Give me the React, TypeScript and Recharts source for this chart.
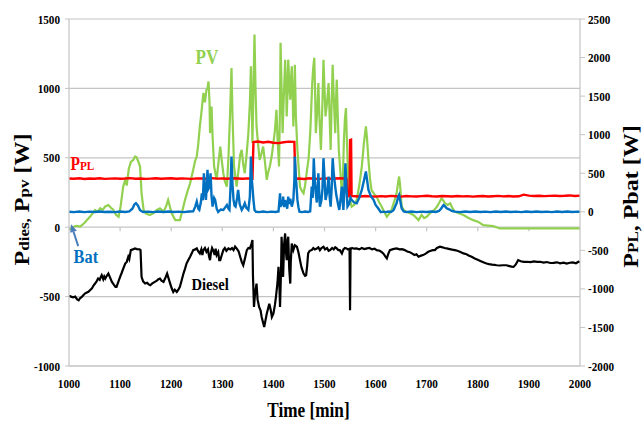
import {
  CartesianGrid,
  Line,
  LineChart,
  ReferenceDot,
  ReferenceLine,
  XAxis,
  YAxis
} from "recharts";

const FONT = '"Liberation Serif", "Times New Roman", Times, serif';
const SQ = 0.86;
const GRID = "#c4c4c4";

const X_TICKS = [1000, 1100, 1200, 1300, 1400, 1500, 1600, 1700, 1800, 1900, 2000];
const LEFT_TICKS = [-1000, -500, 0, 500, 1000, 1500];
const RIGHT_TICKS = [-2000, -1500, -1000, -500, 0, 500, 1000, 1500, 2000, 2500];

// [time min, W]  -- left axis
const PV = [
  [1000, -15], [1005, -10], [1010, 5], [1015, 10], [1022, 5], [1030, 30], [1041, 75], [1051, 124],
  [1056, 110], [1061, 136], [1066, 125], [1071, 150], [1077, 160], [1082, 140], [1087, 124], [1092, 90],
  [1097, 75], [1101, 150], [1106, 292], [1110, 340], [1113, 300], [1117, 420], [1121, 470], [1126, 485],
  [1129, 509], [1132, 505], [1136, 470], [1139, 437], [1142, 244], [1146, 124], [1150, 100], [1158, 88],
  [1165, 100], [1172, 124], [1178, 136], [1185, 112], [1190, 150], [1194, 196], [1198, 140], [1201, 100],
  [1208, 51], [1217, 51], [1222, 120], [1227, 196], [1232, 260], [1237, 316], [1243, 413], [1247, 480],
  [1250, 509], [1253, 600], [1256, 726], [1259, 820], [1263, 967], [1266, 900], [1269, 991], [1271, 1000],
  [1273, 1050], [1275, 900], [1276, 678], [1278, 750], [1279, 870], [1281, 650], [1284, 437], [1287, 380],
  [1289, 341], [1292, 450], [1296, 581], [1299, 480], [1302, 389], [1305, 330], [1309, 292], [1312, 500],
  [1315, 798], [1318, 1147], [1320, 800], [1323, 437], [1326, 350], [1328, 292], [1332, 420], [1335, 520],
  [1338, 557], [1341, 450], [1344, 389], [1347, 500], [1351, 678], [1354, 900], [1356, 1159], [1358, 800],
  [1359, 606], [1361, 1000], [1363, 1388], [1365, 1000], [1367, 726], [1370, 600], [1373, 485], [1376, 520],
  [1380, 581], [1384, 450], [1387, 341], [1390, 400], [1393, 437], [1397, 520], [1400, 606], [1403, 700],
  [1406, 846], [1408, 650], [1411, 437], [1413, 900], [1414, 1328], [1416, 1000], [1418, 678], [1420, 900],
  [1423, 1207], [1425, 1000], [1426, 798], [1428, 1000], [1429, 1207], [1431, 1050], [1433, 919], [1435, 1100],
  [1436, 1159], [1438, 900], [1439, 726], [1441, 950], [1442, 1171], [1444, 800], [1447, 557], [1450, 400],
  [1452, 292], [1456, 260], [1459, 244], [1462, 300], [1465, 389], [1469, 500], [1472, 678], [1474, 850],
  [1476, 1039], [1478, 1150], [1480, 1220], [1482, 900], [1483, 678], [1486, 850], [1488, 1039], [1490, 800],
  [1493, 557], [1496, 900], [1498, 1207], [1500, 1000], [1502, 798], [1505, 900], [1508, 1039], [1510, 800],
  [1512, 557], [1514, 900], [1516, 1171], [1518, 950], [1521, 678], [1522, 850], [1524, 1063], [1526, 800],
  [1528, 557], [1531, 400], [1534, 244], [1536, 350], [1538, 630], [1540, 780], [1542, 858], [1544, 600],
  [1547, 300], [1550, 200], [1553, 148], [1558, 160], [1563, 196], [1568, 300], [1573, 437], [1577, 600],
  [1581, 726], [1583, 650], [1586, 485], [1589, 350], [1592, 268], [1597, 240], [1602, 220], [1607, 180],
  [1612, 148], [1617, 110], [1622, 76], [1627, 100], [1631, 124], [1636, 180], [1641, 244], [1644, 320],
  [1646, 365], [1648, 300], [1651, 148], [1656, 120], [1661, 112], [1667, 100], [1674, 88], [1679, 70],
  [1684, 51], [1690, 88], [1695, 65], [1700, 75], [1705, 95], [1710, 112], [1715, 125], [1720, 148],
  [1725, 180], [1729, 208], [1733, 190], [1736, 172], [1741, 160], [1746, 172], [1750, 140], [1755, 112],
  [1763, 100], [1772, 88], [1780, 70], [1791, 51], [1800, 40], [1811, 15], [1820, 12], [1830, 8],
  [1838, -2], [1843, -8], [1880, -8], [1920, -8], [1960, -8], [2000, -8]
];

const DIESEL = [
  [1000, -495], [1004, -500], [1008, -505], [1012, -500], [1016, -520], [1019, -527], [1022, -510], [1025, -502],
  [1028, -490], [1031, -478], [1035, -470], [1038, -465], [1041, -454], [1045, -440], [1048, -420], [1051, -406],
  [1054, -390], [1057, -370], [1060, -380], [1062, -360], [1064, -346], [1067, -375], [1069, -355], [1071, -370],
  [1074, -350], [1077, -334], [1080, -360], [1084, -394], [1088, -415], [1091, -430], [1093, -430], [1096, -400],
  [1100, -358], [1103, -330], [1106, -300], [1110, -262], [1113, -250], [1116, -213], [1118, -230], [1121, -165],
  [1125, -160], [1129, -153], [1133, -158], [1138, -160], [1140, -165], [1142, -358], [1145, -390], [1149, -406],
  [1153, -400], [1156, -412], [1159, -418], [1163, -405], [1168, -394], [1172, -385], [1175, -375], [1178, -370],
  [1181, -385], [1185, -394], [1188, -370], [1192, -334], [1195, -370], [1198, -406], [1201, -440], [1204, -466],
  [1207, -450], [1211, -466], [1214, -450], [1217, -430], [1220, -390], [1224, -334], [1227, -300], [1230, -262],
  [1233, -240], [1237, -213], [1240, -190], [1243, -165], [1247, -160], [1250, -153], [1253, -175], [1256, -189],
  [1259, -160], [1261, -200], [1263, -165], [1266, -150], [1269, -177], [1272, -160], [1274, -210], [1276, -237],
  [1278, -180], [1280, -150], [1282, -165], [1285, -200], [1287, -155], [1289, -201], [1292, -180], [1294, -237],
  [1296, -237], [1299, -200], [1302, -165], [1305, -150], [1308, -170], [1312, -153], [1316, -160], [1319, -150],
  [1322, -165], [1325, -140], [1328, -153], [1332, -175], [1335, -213], [1338, -250], [1341, -274], [1344, -230],
  [1348, -165], [1351, -150], [1354, -153], [1357, -120], [1359, -93], [1360, -350], [1362, -575], [1364, -480],
  [1367, -406], [1369, -520], [1372, -575], [1375, -600], [1377, -647], [1380, -690], [1382, -719], [1384, -680],
  [1387, -623], [1390, -580], [1392, -551], [1395, -600], [1397, -647], [1400, -623], [1403, -560], [1405, -502],
  [1408, -400], [1410, -286], [1412, -450], [1413, -575], [1415, -300], [1416, -69], [1418, -250], [1419, -358],
  [1421, -120], [1423, -45], [1424, -150], [1426, -237], [1428, -90], [1429, -69], [1431, -300], [1433, -406],
  [1434, -250], [1436, -117], [1439, -165], [1442, -130], [1446, -141], [1449, -180], [1452, -237], [1455, -290],
  [1459, -334], [1462, -350], [1464, -346], [1466, -280], [1468, -189], [1471, -170], [1475, -165], [1478, -150],
  [1481, -160], [1485, -153], [1488, -145], [1491, -165], [1494, -150], [1498, -141], [1501, -160], [1505, -150],
  [1508, -170], [1511, -165], [1515, -150], [1518, -160], [1521, -145], [1524, -153], [1527, -165], [1530, -165],
  [1534, -189], [1537, -160], [1540, -150], [1543, -153], [1546, -160], [1549, -155], [1550, -599], [1551, -160],
  [1554, -150], [1558, -155], [1563, -153], [1568, -160], [1573, -150], [1578, -158], [1583, -153], [1588, -150],
  [1593, -160], [1598, -155], [1602, -165], [1608, -170], [1612, -180], [1615, -189], [1619, -210], [1622, -225],
  [1625, -190], [1628, -165], [1634, -158], [1641, -153], [1647, -160], [1652, -158], [1657, -165], [1662, -175],
  [1667, -180], [1671, -189], [1676, -200], [1680, -195], [1684, -213], [1689, -205], [1693, -201], [1698, -190],
  [1703, -177], [1708, -170], [1712, -165], [1716, -165], [1720, -150], [1726, -141], [1731, -145], [1735, -150],
  [1739, -153], [1745, -158], [1750, -162], [1755, -165], [1760, -170], [1766, -178], [1772, -189], [1778, -195],
  [1783, -205], [1788, -213], [1794, -225], [1801, -237], [1806, -245], [1812, -255], [1817, -262], [1822, -266],
  [1828, -270], [1833, -272], [1837, -274], [1843, -276], [1849, -274], [1856, -274], [1862, -280], [1866, -284],
  [1870, -286], [1874, -270], [1879, -237], [1884, -245], [1890, -250], [1896, -249], [1903, -252], [1910, -246],
  [1916, -250], [1922, -249], [1929, -255], [1935, -251], [1942, -258], [1948, -257], [1955, -253], [1961, -260],
  [1968, -255], [1974, -262], [1980, -256], [1986, -254], [1992, -260], [1997, -249], [2000, -252]
];

// [time min, W]  -- right axis
const PPL = [
  [1000, 432], [1010, 428], [1020, 435], [1030, 426], [1040, 431], [1050, 429], [1060, 434], [1070, 427],
  [1080, 430], [1090, 433], [1100, 428], [1110, 431], [1120, 436], [1130, 429], [1140, 432], [1150, 427],
  [1160, 430], [1170, 434], [1180, 428], [1190, 431], [1200, 435], [1210, 429], [1220, 432], [1230, 430],
  [1240, 427], [1250, 433], [1260, 431], [1270, 428], [1280, 436], [1290, 430], [1300, 432], [1310, 429],
  [1320, 434], [1330, 431], [1340, 428], [1350, 433], [1359, 430], [1361, 905], [1370, 912], [1380, 898],
  [1390, 908], [1400, 895], [1410, 890], [1420, 902], [1430, 910], [1441, 906], [1443, 428], [1450, 432],
  [1460, 426], [1470, 434], [1480, 430], [1490, 427], [1500, 433], [1510, 429], [1520, 431], [1530, 435],
  [1543, 430], [1545, 205], [1549, 200], [1550, 930], [1552, 935], [1553, 205], [1560, 202], [1570, 198],
  [1580, 205], [1590, 200], [1600, 196], [1610, 203], [1620, 199], [1630, 206], [1640, 201], [1650, 197],
  [1660, 204], [1670, 200], [1680, 198], [1690, 203], [1700, 207], [1710, 201], [1720, 199], [1730, 205],
  [1740, 202], [1750, 198], [1760, 204], [1770, 200], [1780, 203], [1790, 197], [1800, 201], [1810, 205],
  [1820, 199], [1830, 202], [1840, 206], [1850, 200], [1860, 204], [1870, 198], [1880, 201], [1890, 222],
  [1900, 210], [1910, 205], [1920, 208], [1930, 203], [1940, 206], [1950, 210], [1960, 204], [1970, 207],
  [1980, 212], [1990, 205], [2000, 209]
];

const BAT = [
  [1000, 0], [1010, -5], [1020, 3], [1030, -4], [1040, 2], [1050, -3], [1060, 4], [1070, -2],
  [1080, 1], [1090, -4], [1100, 3], [1110, -2], [1118, 5], [1124, 40], [1128, 95], [1131, 112],
  [1135, 80], [1139, 20], [1145, -3], [1155, 2], [1165, -4], [1175, 3], [1185, -2], [1195, 4],
  [1205, -3], [1215, 2], [1225, -4], [1235, 3], [1243, 5], [1247, 67], [1250, 132], [1253, 40],
  [1255, 24], [1258, 120], [1260, 240], [1262, 150], [1264, 500], [1266, 260], [1268, 154], [1270, 400],
  [1271, 544], [1273, 300], [1275, 327], [1277, 500], [1279, 200], [1281, 67], [1284, 180], [1286, 154],
  [1289, 40], [1292, -2], [1297, 30], [1302, 24], [1306, 60], [1309, 88], [1312, 40], [1314, 24],
  [1316, 300], [1318, 717], [1320, 350], [1322, 154], [1324, 80], [1326, 67], [1329, 180], [1331, 284],
  [1334, 100], [1338, 24], [1341, 60], [1344, 110], [1347, 50], [1351, 24], [1354, 200], [1356, 717],
  [1358, 400], [1359, 327], [1361, 150], [1363, 24], [1366, 0], [1372, -5], [1380, 3], [1388, -4],
  [1396, 2], [1404, -3], [1410, 5], [1413, 240], [1414, 60], [1416, 154], [1418, 80], [1419, 197],
  [1421, 60], [1423, 150], [1425, 110], [1427, 40], [1429, 197], [1431, 100], [1433, 170], [1436, 67],
  [1439, 150], [1441, 400], [1442, 717], [1444, 450], [1447, 154], [1449, 60], [1451, 2], [1456, -4],
  [1462, 3], [1468, -2], [1472, 5], [1475, 327], [1477, 180], [1479, 695], [1481, 400], [1483, 240],
  [1485, 120], [1488, 500], [1490, 200], [1491, 67], [1494, 150], [1496, 300], [1498, 695], [1500, 450],
  [1502, 154], [1505, 250], [1508, 457], [1510, 200], [1512, 67], [1514, 300], [1516, 695], [1518, 500],
  [1521, 327], [1523, 220], [1525, 154], [1527, 80], [1529, 24], [1532, 200], [1534, 327], [1536, 100],
  [1537, 24], [1539, 300], [1541, 630], [1543, 300], [1545, 67], [1548, 100], [1551, 180], [1553, 154],
  [1558, 120], [1563, 110], [1568, 180], [1573, 284], [1577, 400], [1581, 522], [1584, 380], [1586, 284],
  [1591, 200], [1596, 154], [1600, 90], [1605, 45], [1610, -5], [1615, 2], [1620, -4], [1625, 3],
  [1630, -2], [1635, 20], [1639, 80], [1641, 110], [1644, 190], [1646, 219], [1648, 150], [1651, 45],
  [1655, 5], [1660, -4], [1670, 3], [1680, -5], [1690, 2], [1700, -3], [1710, 4], [1718, -2],
  [1724, 10], [1728, 40], [1733, 88], [1736, 70], [1739, 45], [1743, 35], [1746, 24], [1750, 10],
  [1755, 2], [1765, -4], [1775, 3], [1785, -2], [1795, 4], [1805, -3], [1815, 2], [1825, -5],
  [1835, 3], [1845, -2], [1855, 4], [1865, -3], [1875, 2], [1885, -4], [1895, 3], [1905, -2],
  [1915, 4], [1925, -3], [1935, 2], [1945, -5], [1955, 3], [1965, -2], [1975, 4], [1985, -3],
  [1995, 2], [2000, 0]
];

const toRows = (pairs: number[][]) => pairs.map(([t, v]) => ({ t, v }));

function Squeezed({ x, y, anchor = "middle", size, fill = "#000", children }: any) {
  return (
    <text
      transform={`translate(${x},${y}) scale(${SQ},1)`}
      textAnchor={anchor}
      fontFamily={FONT}
      fontWeight={700}
      fontSize={size}
      fill={fill}
    >
      {children}
    </text>
  );
}

const LeftTick = ({ x, y, payload }: any) => (
  <Squeezed x={x} y={y + 4.5} anchor="end" size={13}>{payload.value}</Squeezed>
);
const RightTick = ({ x, y, payload }: any) => (
  <Squeezed x={x} y={y + 4.5} anchor="start" size={13}>{payload.value}</Squeezed>
);
const BottomTick = ({ x, y, payload }: any) => (
  <Squeezed x={x} y={y + 21.5} size={13}>{payload.value}</Squeezed>
);

function RotTitle({ cx, cy, children }: any) {
  return (
    <text
      transform={`translate(${cx},${cy}) scale(${SQ},1) rotate(-90)`}
      y={8}
      textAnchor="middle"
      fontFamily={FONT}
      fontWeight={700}
      fontSize={24}
      fill="#000"
    >
      {children}
    </text>
  );
}

const LeftTitle = ({ viewBox }: any) => (
  <RotTitle cx={viewBox.x + 22} cy={viewBox.y + viewBox.height / 2 + 7}>
    P<tspan fontSize={17}>dies,</tspan> P<tspan fontSize={17}>pv</tspan> [W]
  </RotTitle>
);

const RightTitle = ({ viewBox }: any) => (
  <RotTitle cx={viewBox.x + 51} cy={viewBox.y + viewBox.height / 2 + 4}>
    P<tspan fontSize={17}>PL</tspan>, Pbat [W]
  </RotTitle>
);

const BottomTitle = ({ viewBox }: any) => (
  <Squeezed x={viewBox.x + viewBox.width / 2 - 16} y={viewBox.y + 51} size={20}>
    Time [min]
  </Squeezed>
);

const note = (text: any, size: number, fill: string) => ({ viewBox }: any) => (
  <Squeezed x={viewBox.x} y={viewBox.y + size * 0.33} size={size} fill={fill}>
    {text}
  </Squeezed>
);

function Arrow({ x1, y1, x2, y2 }: any) {
  const a = Math.atan2(y2 - y1, x2 - x1);
  const len = 8;
  const half = 3.5;
  const bx = x2 - len * Math.cos(a);
  const by = y2 - len * Math.sin(a);
  const pts = `${x2},${y2} ${bx - half * Math.sin(a)},${by + half * Math.cos(a)} ${bx + half * Math.sin(a)},${by - half * Math.cos(a)}`;
  return (
    <g>
      <line x1={x1} y1={y1} x2={bx} y2={by} stroke="#4a7ebb" strokeWidth={2} />
      <polygon points={pts} fill="#4a7ebb" />
    </g>
  );
}

export default function App() {
  return (
    <div style={{ position: "absolute", left: 0, top: 0, background: "#fff" }}>
      <LineChart width={642} height={425} margin={{ top: 19, right: 0, bottom: 0, left: 0 }}>
        <CartesianGrid yAxisId="left" vertical={false} stroke={GRID} strokeWidth={1.2} />
        <XAxis
          type="number"
          dataKey="t"
          domain={[1000, 2000]}
          ticks={X_TICKS}
          allowDataOverflow
          height={59}
          tickLine={false}
          tickSize={0}
          tickMargin={0}
          axisLine={{ stroke: GRID, strokeWidth: 1.2 }}
          tick={<BottomTick />}
          label={{ content: BottomTitle }}
        />
        <YAxis
          yAxisId="left"
          type="number"
          domain={[-1000, 1500]}
          ticks={LEFT_TICKS}
          allowDataOverflow
          width={69}
          tickSize={4}
          tickMargin={5}
          tickLine={{ stroke: GRID }}
          axisLine={{ stroke: GRID, strokeWidth: 1.2 }}
          tick={<LeftTick />}
          label={{ content: LeftTitle }}
        />
        <YAxis
          yAxisId="right"
          orientation="right"
          type="number"
          domain={[-2000, 2500]}
          ticks={RIGHT_TICKS}
          allowDataOverflow
          width={62}
          tickSize={5}
          tickMargin={3}
          tickLine={{ stroke: GRID }}
          axisLine={{ stroke: GRID, strokeWidth: 1.2 }}
          tick={<RightTick />}
          label={{ content: RightTitle }}
        />
        {X_TICKS.slice(1, -1).map((t) => (
          <ReferenceLine
            key={t}
            yAxisId="left"
            segment={[{ x: t, y: 0 }, { x: t, y: -30 }]}
            stroke={GRID}
            strokeWidth={1.2}
          />
        ))}
        <Line data={toRows(PV)} dataKey="v" yAxisId="left" type="linear" stroke="#92d050" strokeWidth={2.2} dot={false} isAnimationActive={false} />
        <Line data={toRows(PPL)} dataKey="v" yAxisId="right" type="linear" stroke="#ff0000" strokeWidth={2.4} dot={false} isAnimationActive={false} />
        <Line data={toRows(BAT)} dataKey="v" yAxisId="right" type="linear" stroke="#0070c0" strokeWidth={2.4} dot={false} isAnimationActive={false} />
        <Line data={toRows(DIESEL)} dataKey="v" yAxisId="left" type="linear" stroke="#000000" strokeWidth={2.2} dot={false} isAnimationActive={false} />
        <ReferenceLine
          yAxisId="left"
          segment={[{ x: 1018, y: -136 }, { x: 1004, y: 22 }]}
          shape={<Arrow />}
        />
        <ReferenceDot yAxisId="left" x={1270} y={1221} r={0} fill="none" stroke="none" label={{ content: note("PV", 20, "#92d050") }} />
        <ReferenceDot
          yAxisId="left"
          x={1026}
          y={456}
          r={0}
          fill="none"
          stroke="none"
          label={{ content: note(<>P<tspan fontSize={13}>PL</tspan></>, 18, "#ff0000") }}
        />
        <ReferenceDot yAxisId="left" x={1033} y={-216} r={0} fill="none" stroke="none" label={{ content: note("Bat", 19, "#0070c0") }} />
        <ReferenceDot yAxisId="left" x={1276} y={-411} r={0} fill="none" stroke="none" label={{ content: note("Diesel", 17, "#000") }} />
      </LineChart>
    </div>
  );
}
